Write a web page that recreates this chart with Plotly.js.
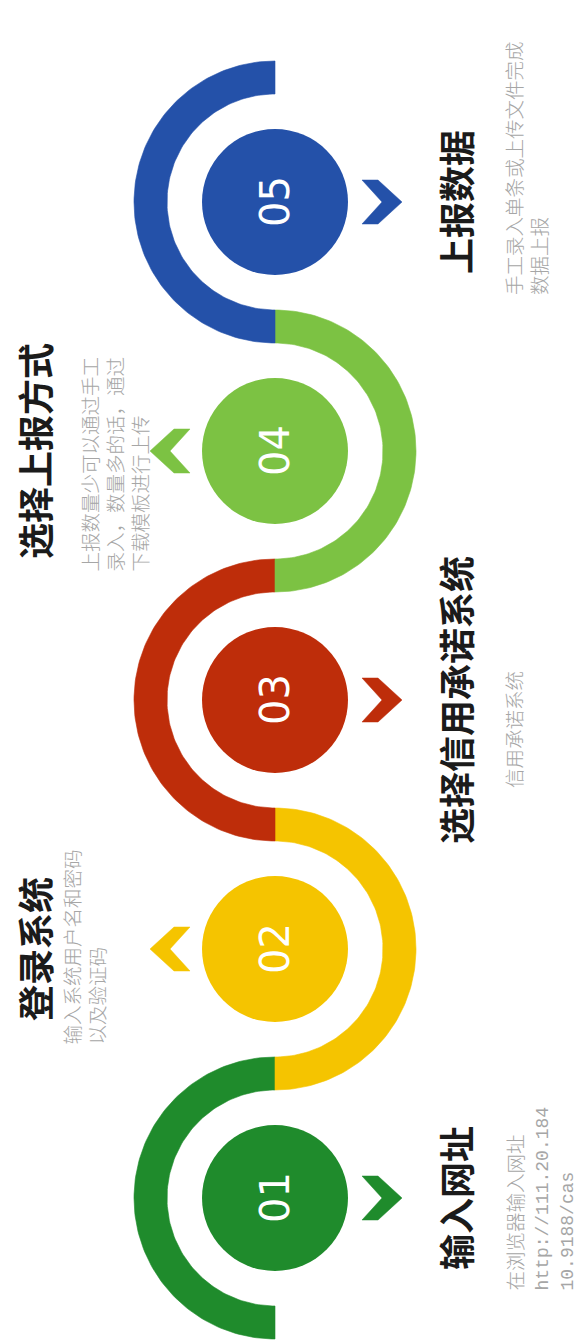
<!DOCTYPE html>
<html>
<head>
<meta charset="utf-8">
<script src="https://cdn.plot.ly/plotly-3.0.1.min.js"></script>
<style>
html,body{margin:0;padding:0;background:#ffffff;}
#chart{width:578px;height:1340px;}
</style>
</head>
<body>
<div id="chart"></div>
<script>
// ---------------- data ----------------
const steps = ['01', '02', '03', '04', '05'];
const titles = ['输入网址', '登录系统', '选择信用承诺系统', '选择上报方式', '上报数据'];
const descs = [
  ['在浏览器输入网址', 'http://111.20.184', '10.9188/cas'],
  ['输入系统用户名和密码', '以及验证码'],
  ['信用承诺系统'],
  ['上报数量少可以通过手工', '录入，数量多的话，通过', '下载模板进行上传'],
  ['手工录入单条或上传文件完成', '数据上报']
];
const colors = ['#1f8b2c', '#f5c400', '#be2d0a', '#7cc243', '#2451a9'];

// ---------------- layout constants (pixels) ----------------
const W = 578, H = 1340;
const U = 249;          // pixels per step
const SPINE = 275;      // x pixel of the spine
const CY0 = 1198;       // y pixel of first step centre
const px = v => v / U;
const R_OUT = px(141), R_IN = 1 - R_OUT, R_DOT = px(73);
const descDy = [95, 98, 90, 123, 95];      // start of description below centre
const descLeftX = [-221, -203];            // left-side desc left edge (02, 04) relative to spine
const descRightX = 222;                    // right-side desc left edge relative to spine
const chev = [[-20, -22], [-4, -22], [20, 0], [-4, 22], [-20, 22], [0, 0], [-20, -22]];

const traces = [];
const shapes = [];
const annotations = [];

steps.forEach((s, i) => {
  const leftArc = i % 2 === 0;
  const col = colors[i];
  // half ring
  const a0 = leftArc ? Math.PI / 2 : -Math.PI / 2;
  const xs = [], ys = [];
  const N = 120;
  for (let k = 0; k <= N; k++) { const a = a0 + Math.PI * k / N; xs.push(R_OUT * Math.cos(a)); ys.push(i + R_OUT * Math.sin(a)); }
  for (let k = N; k >= 0; k--) { const a = a0 + Math.PI * k / N; xs.push(R_IN * Math.cos(a)); ys.push(i + R_IN * Math.sin(a)); }
  xs.push(xs[0]); ys.push(ys[0]);
  traces.push({type: 'scatter', mode: 'lines', x: xs, y: ys, fill: 'toself', fillcolor: col,
    line: {width: 0.6, color: col}, hoverinfo: 'skip', showlegend: false});

  // centre disc
  shapes.push({type: 'circle', xref: 'x', yref: 'y', x0: -R_DOT, x1: R_DOT, y0: i - R_DOT, y1: i + R_DOT,
    fillcolor: col, line: {width: 0}});

  // chevron
  const cx = leftArc ? 107 : -105;
  const dir = leftArc ? 1 : -1;
  traces.push({type: 'scatter', mode: 'lines',
    x: chev.map(p => px(cx + dir * p[0])), y: chev.map(p => i - px(p[1])),
    fill: 'toself', fillcolor: col, line: {width: 0.5, color: col}, hoverinfo: 'skip', showlegend: false});

  // number
  annotations.push({x: 0, y: i, xref: 'x', yref: 'y', text: s, showarrow: false, textangle: -90,
    xanchor: 'center', yanchor: 'middle',
    font: {family: 'DejaVu Sans', size: 40, color: '#ffffff'}});

  // title
  annotations.push({x: leftArc ? px(180) : px(-241), y: i, xref: 'x', yref: 'y', text: titles[i],
    showarrow: false, textangle: -90, xanchor: 'center', yanchor: 'middle',
    font: {family: 'Noto Sans CJK SC', size: 36, color: '#1b1b1b', weight: 'bold'}});

  // description
  const lines = descs[i].map(t => /^[\x00-\x7f]+$/.test(t)
    ? '<span style="font-family:Liberation Mono;font-size:18px">' + t + '</span>' : t);
  annotations.push({x: leftArc ? px(descRightX) : px(descLeftX[(i - 1) / 2]), y: i - px(descDy[i]),
    xref: 'x', yref: 'y', text: lines.join('<br>'), showarrow: false, textangle: -90,
    xanchor: 'left', yanchor: 'bottom', align: 'left',
    font: {family: 'Noto Sans CJK SC', size: 19.5, color: '#a6a6a6', weight: 300}});
});

const layout = {
  width: W, height: H,
  margin: {l: 0, r: 0, t: 0, b: 0, pad: 0},
  paper_bgcolor: '#ffffff', plot_bgcolor: '#ffffff',
  xaxis: {range: [-SPINE / U, (W - SPINE) / U], visible: false, fixedrange: true},
  yaxis: {range: [-(H - CY0) / U, CY0 / U], visible: false, fixedrange: true},
  shapes: shapes, annotations: annotations, showlegend: false, hovermode: false
};

Plotly.newPlot('chart', traces, layout, {staticPlot: true, displayModeBar: false});
</script>
</body>
</html>
